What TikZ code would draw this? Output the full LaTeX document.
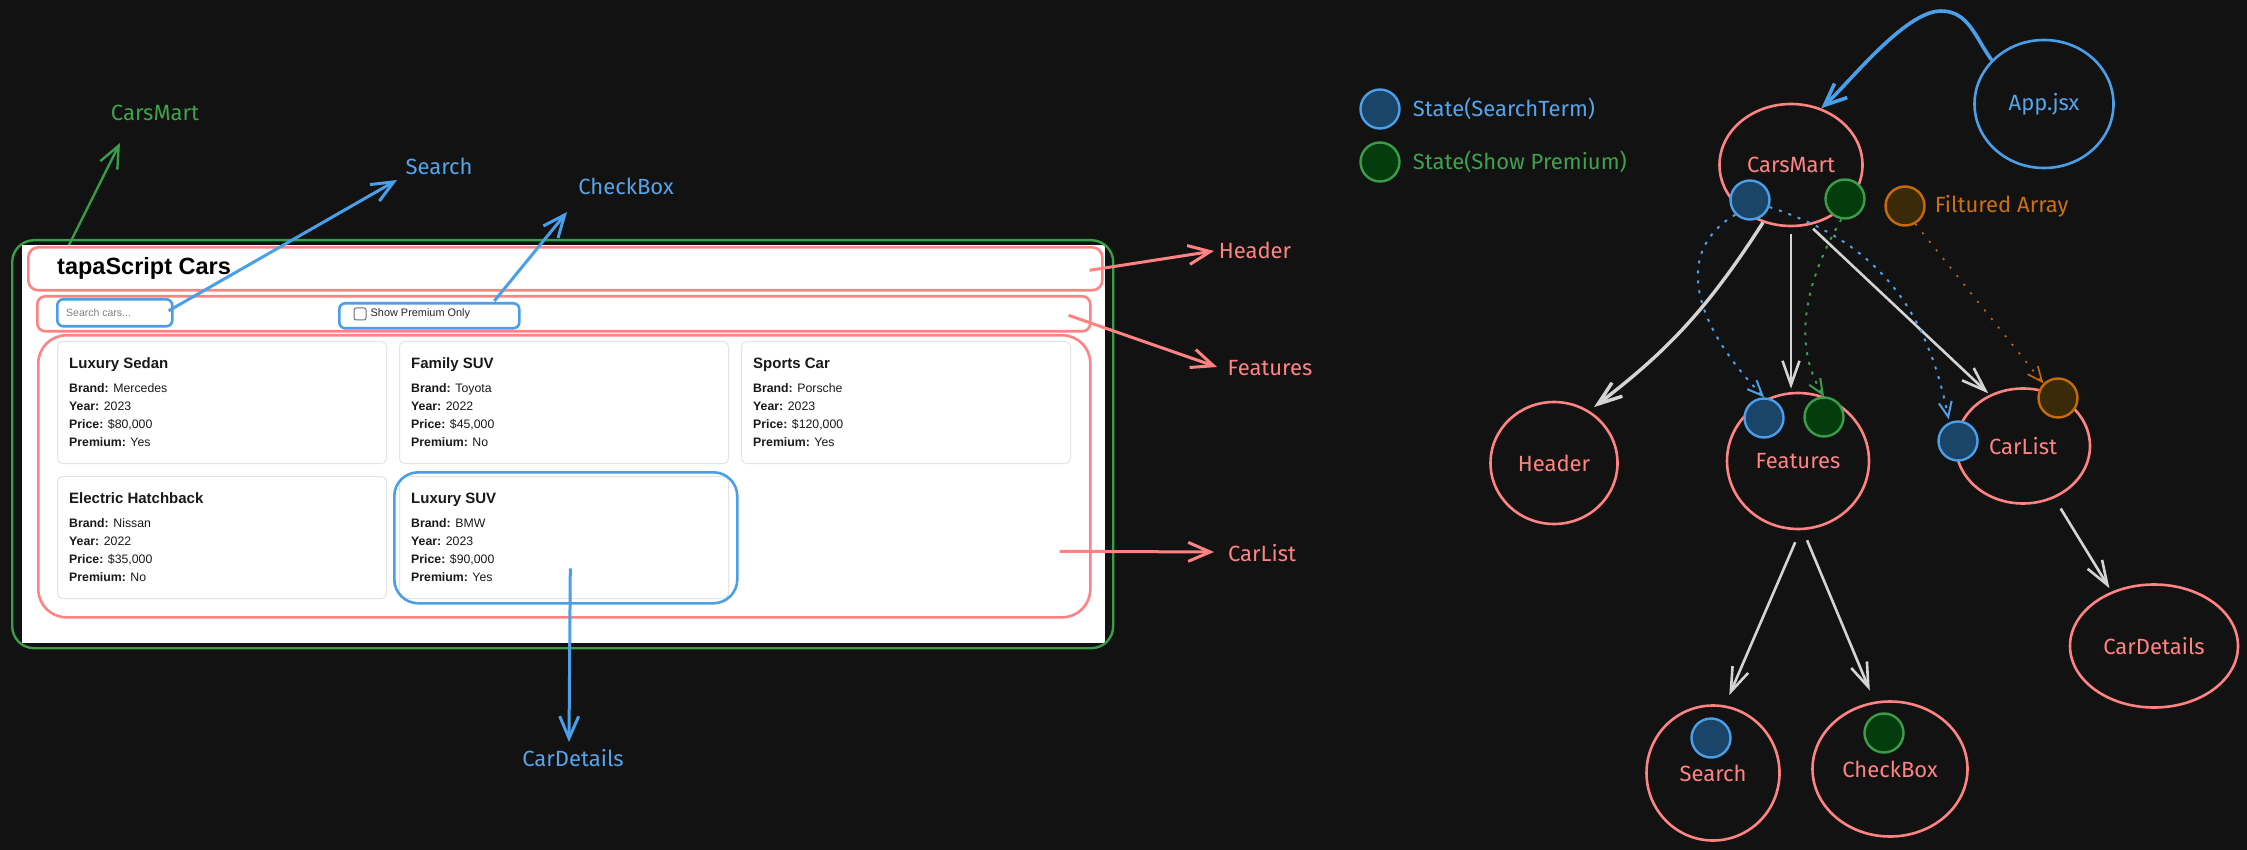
\documentclass[tikz,border=0pt]{standalone}
\usepackage{fontspec}
\usetikzlibrary{arrows.meta,positioning,shapes.geometric}

\newfontfamily\handfont{Fira Sans}
\newfontfamily\uifont{Liberation Sans}

\definecolor{bgdark}{HTML}{121212}
\definecolor{rd}{HTML}{FF8383}
\definecolor{bl}{HTML}{4A9FE8}
\definecolor{blfill}{HTML}{1A4568}
\definecolor{bltext}{HTML}{56A4EA}
\definecolor{gr}{HTML}{3A9D4A}
\definecolor{grfill}{HTML}{053C0E}
\definecolor{grtext}{HTML}{3FA24E}
\definecolor{orng}{HTML}{C96A0A}
\definecolor{orfill}{HTML}{3B2A07}
\definecolor{ortext}{HTML}{CC7010}
\definecolor{wirecol}{HTML}{D4D4D4}
\definecolor{cardline}{HTML}{E4E4E4}

\tikzset{
  lbl/.style={font=\handfont\fontsize{22}{26}\selectfont, inner sep=2pt},
  treenode/.style={ellipse, draw=rd, line width=2.6pt, inner sep=0pt, text=rd,
    font=\handfont\fontsize{22}{26}\selectfont},
  statedot/.style={circle, line width=2.4pt, inner sep=0pt, minimum size=39pt},
  sstate/.style={statedot, draw=bl, fill=blfill},
  pstate/.style={statedot, draw=gr, fill=grfill},
  fstate/.style={statedot, draw=orng, fill=orfill},
  wire/.style={draw=wirecol, line width=2.6pt, -{Straight Barb[length=24pt,width=17pt]}},
  redarrow/.style={draw=rd, line width=3pt, -{Straight Barb[length=22pt,width=19pt]}},
  bluearrow/.style={draw=bl, line width=3pt, -{Straight Barb[length=22pt,width=19pt]}},
  greenarrow/.style={draw=gr, line width=2.4pt, -{Straight Barb[length=22pt,width=19pt]}},
  sdot/.style={draw=bl, line width=2pt, dash pattern=on 3pt off 7pt, -{Straight Barb[length=15pt,width=13pt]}},
  pdot/.style={draw=gr, line width=2pt, dash pattern=on 3pt off 7pt, -{Straight Barb[length=15pt,width=13pt]}},
  fdot/.style={draw=orng, line width=1.6pt, dash pattern=on 2pt off 9pt, -{Straight Barb[length=15pt,width=13pt]}},
  redbar/.style={draw=rd, line width=2.6pt, inner sep=0pt, rounded corners=10pt},
  bluebox/.style={draw=bl, line width=2.6pt, inner sep=0pt, rounded corners=6pt},
  card/.style={draw=cardline, fill=white, line width=1pt, rounded corners=5pt, inner sep=0pt,
    minimum width=329pt, minimum height=122pt},
  cardtitle/.style={font=\uifont\bfseries\fontsize{15}{18}\selectfont, inner sep=0pt, text=black!90},
  cardtext/.style={font=\uifont\fontsize{12.3}{18}\selectfont, inner sep=0pt, text=black!90}
}

\begin{document}
\begin{tikzpicture}[x=1pt, y=-1pt]
  % canvas
  \path[use as bounding box, fill=bgdark] (0,0) rectangle (2247,850);

  % screenshot of the app
  \fill[white] (22,245) rectangle (1105,643);
  \node[draw=gr, line width=2.4pt, rounded corners=22pt, inner sep=0pt, anchor=north west,
    minimum width=1101pt, minimum height=408pt] (frame) at (11,239) {};

  % header, features and list areas
  \node[redbar, anchor=north west, minimum width=1074pt, minimum height=43pt] (hdrBar) at (27,246) {};
  \node[font=\uifont\bfseries\fontsize{23.5}{28}\selectfont, anchor=west, inner sep=0pt] (appTitle) at (57,268) {tapaScript Cars};
  \node[redbar, rounded corners=8pt, anchor=north west, minimum width=1053pt, minimum height=35pt] (featBar) at (36,295) {};
  \node[redbar, rounded corners=28pt, anchor=north west, minimum width=1052pt, minimum height=282pt] (listBox) at (37,334) {};

  % search input and checkbox
  \node[bluebox, anchor=north west, minimum width=115pt, minimum height=27pt] (srchBox) at (56,298) {};
  \node[font=\uifont\fontsize{10.5}{12}\selectfont, text=black!50, anchor=west, inner sep=0pt] (srchHint) at (66,313) {Search cars...};
  \node[bluebox, anchor=north west, minimum width=180pt, minimum height=25pt] (chkBox) at (338,302) {};
  \node[draw=black!55, line width=1pt, rounded corners=2pt, minimum size=12pt, inner sep=0pt] (chkSq) at (360,314) {};
  \node[font=\uifont\fontsize{10.9}{12}\selectfont, text=black!85, right=4pt of chkSq, inner sep=0pt] (chkText) {Show Premium Only};

  % car cards
  \foreach \cx/\cy/\ttl/\brand/\yr/\price/\prem [count=\i] in {
      57/341/Luxury Sedan/Mercedes/2023/{\$80,000}/Yes,
      399/341/Family SUV/Toyota/2022/{\$45,000}/No,
      741/341/Sports Car/Porsche/2023/{\$120,000}/Yes,
      57/476/Electric Hatchback/Nissan/2022/{\$35,000}/No,
      399/476/Luxury SUV/BMW/2023/{\$90,000}/Yes}
  {
    \node[card, anchor=north west] (card\i) at (\cx,\cy) {};
    \node[cardtitle, anchor=base west] (ttl\i) at ([shift={(12,27)}]card\i.north west) {\ttl};
    \node[cardtext, anchor=base west] (brand\i) at ([shift={(12,51)}]card\i.north west) {\textbf{Brand:} \brand};
    \node[cardtext, anchor=base west] (year\i) at ([shift={(12,69)}]card\i.north west) {\textbf{Year:} \yr};
    \node[cardtext, anchor=base west] (price\i) at ([shift={(12,87)}]card\i.north west) {\textbf{Price:} \price};
    \node[cardtext, anchor=base west] (prem\i) at ([shift={(12,105)}]card\i.north west) {\textbf{Premium:} \prem};
  }
  \node[bluebox, rounded corners=24pt, anchor=north west, minimum width=343pt, minimum height=131pt] (suvBox) at (393,471) {};

  % labels round the screenshot
  \node[lbl, text=grtext] (lblCarsMart) at (155,113) {CarsMart};
  \node[lbl, text=bltext] (lblSearch) at (439,166) {Search};
  \node[lbl, text=bltext] (lblCheckBox) at (626,186) {CheckBox};
  \node[lbl, text=rd] (lblHeader) at (1255,250) {Header};
  \node[lbl, text=rd] (lblFeatures) at (1270,368) {Features};
  \node[lbl, text=rd] (lblCarList) at (1262,553) {CarList};
  \node[lbl, text=bltext] (lblCarDetails) at (573,758) {CarDetails};

  % pointers to the labels
  \draw[greenarrow] ([shift={(58,6)}]frame.north west) -- ([shift={(-35,30)}]lblCarsMart.center);
  \draw[bluearrow] ([shift={(-5,-2)}]srchBox.east) -- ([shift={(-42,14)}]lblSearch.center);
  \draw[bluearrow] ([shift={(65,-1)}]chkBox.north) -- ([shift={(-59,26)}]lblCheckBox.center);
  \draw[redarrow] ([shift={(-14,1.5)}]hdrBar.east) -- ([shift={(-41,1)}]lblHeader.center);
  \draw[redarrow] ([shift={(-23,1.5)}]featBar.east) -- ([shift={(-53,-1)}]lblFeatures.center);
  \draw[redarrow] ([shift={(-32,75)}]listBox.east) -- ([shift={(-48,-1)}]lblCarList.center);
  \draw[bluearrow] ([shift={(4.5,30.5)}]suvBox.center) -- ([shift={(-4,-16)}]lblCarDetails.center);

  % component tree
  \node[treenode, minimum width=143pt, minimum height=122pt] (carsmart) at (1791,165) {CarsMart};
  \node[treenode, draw=bl, text=bltext, minimum width=139pt, minimum height=128pt] (appjsx) at (2044,104) {App.jsx};
  \node[treenode, minimum width=127pt, minimum height=122pt] (header) at (1554,463) {Header};
  \node[treenode, minimum width=142pt, minimum height=136pt] (features) at (1798,461) {Features};
  \node[treenode, minimum width=134pt, minimum height=115pt] (carlist) at (2023,446) {CarList};
  \node[treenode, minimum width=168pt, minimum height=123pt] (cardetails) at (2154,646) {CarDetails};
  \node[treenode, minimum width=133pt, minimum height=135pt] (search) at (1713,773) {Search};
  \node[treenode, minimum width=155pt, minimum height=135pt] (checkbox) at (1890,769) {CheckBox};

  % legend
  \node[sstate] (legS) at (1380,109) {};
  \node[lbl, text=bltext, right=10pt of legS] (legSText) {State(SearchTerm)};
  \node[pstate] (legP) at (1380,162) {};
  \node[lbl, text=grtext, right=10pt of legP] (legPText) {State(Show Premium)};

  % states on the components
  \node[sstate] (cmS) at (1750,200) {};
  \node[pstate] (cmP) at (1845,199) {};
  \node[fstate] (filt) at (1905,206) {};
  \node[lbl, text=ortext, right=7pt of filt] (filtText) {Filtured Array};
  \node[sstate] (ftS) at (1764,418) {};
  \node[pstate] (ftP) at (1824,417) {};
  \node[fstate] (clF) at (2058,398) {};
  \node[sstate] (clS) at (1958,441) {};
  \node[sstate] (srS) at (1711,738) {};
  \node[pstate] (cbP) at (1884,733) {};

  % App.jsx renders CarsMart
  \coordinate (appPeak) at (1941,11);
  \draw[bluearrow, line width=3.6pt] (appjsx.140) to[out=126, in=0] (appPeak)
    to[out=180, in=42, looseness=0.6] (carsmart.62);

  % parent to child
  \draw[wire, line width=3.4pt, shorten >=6pt] (carsmart.-116) to[bend left=10] (header.56);
  \draw[wire, shorten <=7pt, shorten >=3pt] (carsmart.south) -- (carsmart.south |- features.north);
  \draw[wire, shorten <=5pt, shorten >=2pt] (carsmart.-73) -- (carlist.123);
  \draw[wire, shorten <=13pt, shorten >=11pt] (features.-88) -- (search.80);
  \draw[wire, shorten <=11pt, shorten >=12pt] (features.-86) -- (checkbox.103);
  \draw[wire, shorten <=12pt, shorten >=4pt] (carlist.-59) -- (cardetails.128);

  % state passed down as props
  \draw[sdot] (cmS.-135) .. controls (1675,250) and (1690,320) .. (ftS.north);
  \draw[sdot, shorten >=3pt] (cmS.-20) .. controls (1870,240) and (1925,300) .. (clS.115);
  \draw[pdot] (cmP.-100) .. controls (1800,290) and (1795,350) .. (ftP.north);
  \draw[fdot] (filt.-60) -- (clF.135);
\end{tikzpicture}
\end{document}
